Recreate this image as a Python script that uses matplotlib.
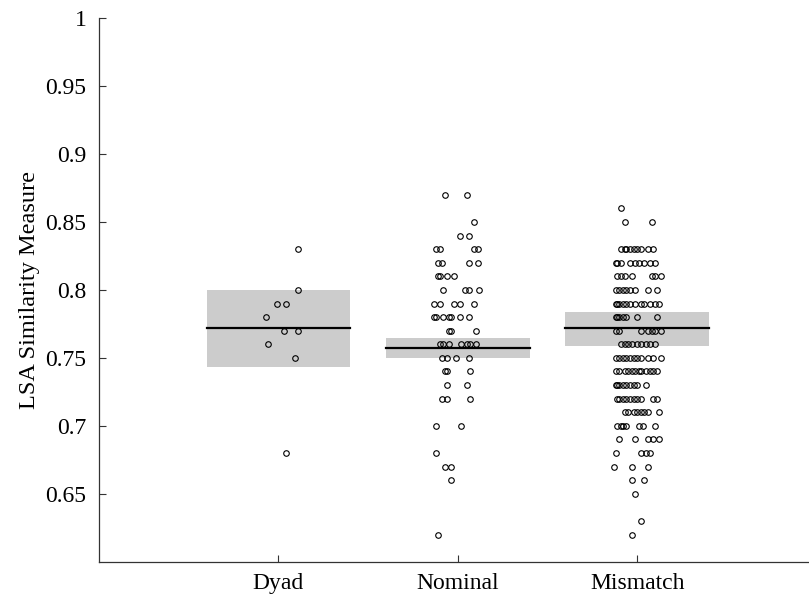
import matplotlib
matplotlib.use("Agg")
import matplotlib.pyplot as plt

plt.rcParams['font.family'] = ['Liberation Serif', 'DejaVu Serif']

groups = ["Dyad", "Nominal", "Mismatch"]
group_pos = [1, 2, 3]

# mean and shaded interval for each group
means = [0.772, 0.757, 0.772]
box_lo = [0.743, 0.750, 0.759]
box_hi = [0.800, 0.765, 0.784]

# scatter points: each level has a list of horizontal jitters (in category units)
dyad_levels = [0.83, 0.80, 0.79, 0.78, 0.77, 0.76, 0.75, 0.68]
dyad_jit = [[0.11], [0.11], [-0.01, 0.04], [-0.07], [0.03, 0.11], [-0.06], [0.09], [0.04]]

nominal_levels = [0.87, 0.85, 0.84, 0.83, 0.82, 0.81, 0.80, 0.79, 0.78, 0.77,
                  0.76, 0.75, 0.74, 0.73, 0.72, 0.70, 0.68, 0.67, 0.66, 0.62]
nominal_jit = [
    [-0.07, 0.05],
    [0.09],
    [0.01, 0.06],
    [-0.12, -0.10, 0.09, 0.11],
    [-0.11, -0.09, 0.06, 0.11],
    [-0.11, -0.10, -0.06, -0.02],
    [-0.08, 0.04, 0.06, 0.12],
    [-0.13, -0.10, -0.02, 0.01, 0.09],
    [-0.13, -0.12, -0.08, -0.05, -0.04, 0.01, 0.06],
    [-0.05, -0.04, 0.10],
    [-0.10, -0.08, -0.05, 0.02, 0.05, 0.07, 0.10],
    [-0.09, -0.06, -0.01, 0.06],
    [-0.07, -0.06, 0.07],
    [-0.06, 0.05],
    [-0.09, -0.06, 0.07],
    [-0.12, 0.02],
    [-0.12],
    [-0.07, -0.04],
    [-0.04],
    [-0.11],
]

mismatch_levels = [0.86, 0.85, 0.83, 0.82, 0.81, 0.80, 0.79, 0.78, 0.77, 0.76, 0.75,
                   0.74, 0.73, 0.72, 0.71, 0.70, 0.69, 0.68, 0.67, 0.66, 0.65, 0.63, 0.62]
mismatch_jit = [
    [-0.09],
    [-0.07, 0.08],
    [-0.09, -0.07, -0.06, -0.04, -0.02, 0.00, 0.02, 0.06, 0.09],
    [-0.12, -0.11, -0.09, -0.04, -0.01, 0.01, 0.04, 0.07, 0.10],
    [-0.11, -0.09, -0.07, -0.03, 0.08, 0.10, 0.13],
    [-0.12, -0.10, -0.08, -0.06, -0.04, -0.01, 0.06, 0.11],
    [-0.12, -0.11, -0.10, -0.08, -0.06, -0.04, -0.01, 0.02, 0.04, 0.07, 0.10, 0.12],
    [-0.12, -0.11, -0.10, -0.08, -0.06, 0.00, 0.11],
    [-0.12, -0.10, 0.02, 0.06, 0.08, 0.10, 0.13],
    [-0.09, -0.07, -0.05, -0.03, 0.00, 0.02, 0.05, 0.07, 0.10],
    [-0.12, -0.10, -0.08, -0.06, -0.04, -0.02, 0.00, 0.02, 0.06, 0.09, 0.13],
    [-0.12, -0.10, -0.07, -0.05, -0.03, -0.01, 0.01, 0.02, 0.05, 0.07, 0.09, 0.11],
    [-0.12, -0.11, -0.10, -0.08, -0.06, -0.04, -0.02, 0.00, 0.05],
    [-0.11, -0.10, -0.08, -0.06, -0.04, -0.02, 0.00, 0.02, 0.09, 0.11],
    [-0.07, -0.05, -0.02, 0.00, 0.02, 0.04, 0.06, 0.12],
    [-0.11, -0.09, -0.08, -0.06, 0.01, 0.03, 0.10],
    [-0.10, -0.01, 0.06, 0.09, 0.12],
    [-0.12, 0.02, 0.05, 0.07],
    [-0.13, -0.03, 0.06],
    [-0.03, 0.04],
    [-0.01],
    [0.02],
    [-0.03],
]

ytick_vals = [0.65, 0.7, 0.75, 0.8, 0.85, 0.9, 0.95, 1.0]
ytick_labels = ["0.65", "0.7", "0.75", "0.8", "0.85", "0.9", "0.95", "1"]

fig = plt.figure(figsize=(8.09, 6.01), dpi=100)
ax = fig.add_axes([0.1224, 0.0654, 0.887, 0.9042])

half = 0.4
for i, p in enumerate(group_pos):
    ax.fill_between([p - half, p + half], box_lo[i], box_hi[i],
                    color="#cccccc", lw=0, zorder=1)
    ax.plot([p - half, p + half], [means[i], means[i]], color="black", lw=1.6, zorder=2)

all_levels = [dyad_levels, nominal_levels, mismatch_levels]
all_jit = [dyad_jit, nominal_jit, mismatch_jit]
for p, levels, jits in zip(group_pos, all_levels, all_jit):
    xs, ys = [], []
    for v, js in zip(levels, jits):
        for j in js:
            xs.append(p + j)
            ys.append(v)
    ax.plot(xs, ys, "o", ms=4, mfc="none", mec="black", mew=0.8, zorder=3)

ax.set_xlim(0, 4)
ax.set_ylim(0.6, 1.0)
ax.set_xticks(group_pos)
ax.set_xticklabels(groups)
ax.set_yticks(ytick_vals)
ax.set_yticklabels(ytick_labels)
ax.set_ylabel("LSA Similarity Measure", fontsize=17.5, labelpad=4)

ax.spines["top"].set_visible(False)
ax.spines["right"].set_visible(False)
for s in ["left", "bottom"]:
    ax.spines[s].set_linewidth(0.9)
    ax.spines[s].set_color("#333333")
ax.tick_params(direction="in", length=5, width=0.8, labelsize=17, color="#333333")
ax.tick_params(axis="y", pad=9)
ax.tick_params(axis="x", pad=8)

fig.savefig("out.png", dpi=100)
